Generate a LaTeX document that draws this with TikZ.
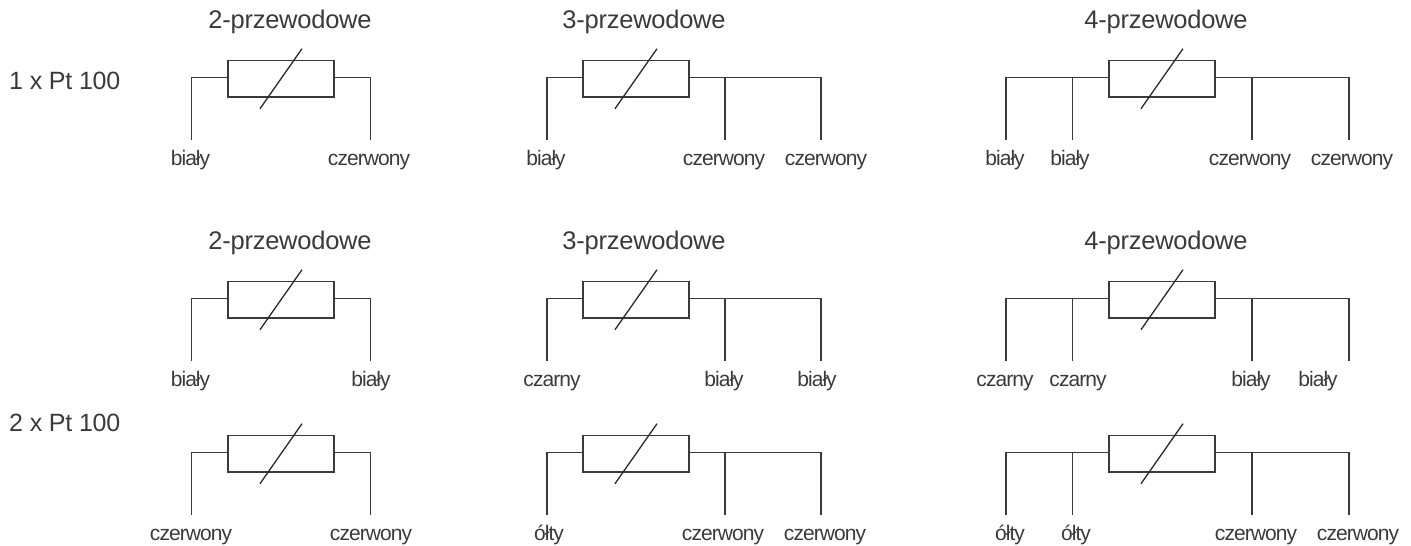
\documentclass[tikz,border=0pt]{standalone}
\usepackage{fontspec}
\setmainfont{Liberation Sans}
\newfontfamily\lblfont[LetterSpace=-4.5]{Liberation Sans}
\newfontfamily\headfont[LetterSpace=-1]{Liberation Sans}
\definecolor{ink}{HTML}{3A3A3A}
\tikzset{
  resistor/.style={draw=ink,line width=1.3pt,minimum width=106pt,minimum height=36.5pt,inner sep=0pt,outer sep=0pt},
  wire/.style={draw=ink,line width=1.3pt},
  slashline/.style={draw=ink!70!black,line width=1.3pt},
  lbl/.style={anchor=base,inner sep=0pt,text=ink,font=\fontsize{21}{24}\selectfont\lblfont},
  head/.style={anchor=base,inner sep=0pt,text=ink,font=\fontsize{25.5}{30}\selectfont\headfont},
  rowlbl/.style={anchor=base west,inner sep=0pt,text=ink,font=\fontsize{25}{30}\selectfont\headfont},
}
% #1 prefix, #2 wire y, #3 body centre x
\newcommand{\unitbody}[3]{%
  \node[resistor] (#1r) at (#3,#2+1.15) {};
  \coordinate (#1sa) at (#3-21,#2+31);
  \coordinate (#1sb) at (#3+21,#2-29);
  \draw[slashline] (#1sa) -- (#1sb);
}
\begin{document}
\begin{tikzpicture}[x=1pt,y=-1pt]
\useasboundingbox (0,0) rectangle (1411,546);
\foreach \p/\y/\ly/\la/\lb/\lax/\lbx in {
  a/77.7/165/biały/czerwony/190.5/369,
  b/298.7/386/biały/biały/190.5/371,
  c/452.7/540/czerwony/czerwony/191/371}{
  \unitbody{\p}{\y}{281}
  \coordinate (\p l) at (191.5,\y);
  \coordinate (\p le) at (191.5,\y+62.5);
  \coordinate (\p q) at (370.5,\y);
  \coordinate (\p qe) at (370.5,\y+62.5);
  \draw[wire] (\p r.west |- \p l) -- (\p l) -- (\p le);
  \draw[wire] (\p r.east |- \p q) -- (\p q) -- (\p qe);
  \node[lbl] (\p t1) at (\lax,\ly) {\la};
  \node[lbl] (\p t2) at (\lbx,\ly) {\lb};
}
\foreach \p/\y/\ly/\la/\lb/\lax/\lbx/\lcx in {
  d/77.7/165/biały/czerwony/546/724/826,
  e/298.7/386/czarny/biały/552/724/817,
  f/452.7/540/ółty/czerwony/549/723/825}{
  \unitbody{\p}{\y}{636}
  \coordinate (\p l) at (547,\y);
  \coordinate (\p le) at (547,\y+62.5);
  \coordinate (\p m) at (725,\y);
  \coordinate (\p me) at (725,\y+62.5);
  \coordinate (\p q) at (821,\y);
  \coordinate (\p qe) at (821,\y+62.5);
  \draw[wire] (\p r.west |- \p l) -- (\p l) -- (\p le);
  \draw[wire] (\p r.east |- \p q) -- (\p q) -- (\p qe);
  \draw[wire] (\p m) -- (\p me);
  \node[lbl] (\p t1) at (\lax,\ly) {\la};
  \node[lbl] (\p t2) at (\lbx,\ly) {\lb};
  \node[lbl] (\p t3) at (\lcx,\ly) {\lb};
}
\foreach \p/\y/\ly/\la/\lb/\lax/\lbx/\lcx/\ldx in {
  g/77.7/165/biały/czerwony/1005/1070/1250/1352,
  h/298.7/386/czarny/biały/1005/1078/1251/1318,
  i/452.7/540/ółty/czerwony/1010/1076/1256/1358}{
  \unitbody{\p}{\y}{1162}
  \coordinate (\p l) at (1006,\y);
  \coordinate (\p le) at (1006,\y+62.5);
  \coordinate (\p k) at (1072.7,\y);
  \coordinate (\p ke) at (1072.7,\y+62.5);
  \coordinate (\p m) at (1252,\y);
  \coordinate (\p me) at (1252,\y+62.5);
  \coordinate (\p q) at (1349,\y);
  \coordinate (\p qe) at (1349,\y+62.5);
  \draw[wire] (\p r.west |- \p l) -- (\p l) -- (\p le);
  \draw[wire] (\p k) -- (\p ke);
  \draw[wire] (\p r.east |- \p q) -- (\p q) -- (\p qe);
  \draw[wire] (\p m) -- (\p me);
  \node[lbl] (\p t1) at (\lax,\ly) {\la};
  \node[lbl] (\p t2) at (\lbx,\ly) {\la};
  \node[lbl] (\p t3) at (\lcx,\ly) {\lb};
  \node[lbl] (\p t4) at (\ldx,\ly) {\lb};
}
\node[head] (h1) at (290,28) {2-przewodowe};
\node[head] (h2) at (644,28) {3-przewodowe};
\node[head] (h3) at (1166,28) {4-przewodowe};
\node[head] (h4) at (290,249) {2-przewodowe};
\node[head] (h5) at (644,249) {3-przewodowe};
\node[head] (h6) at (1166,249) {4-przewodowe};
\node[rowlbl] (r1) at (9,89) {1 x Pt 100};
\node[rowlbl] (r2) at (9,431) {2 x Pt 100};
\end{tikzpicture}
\end{document}
